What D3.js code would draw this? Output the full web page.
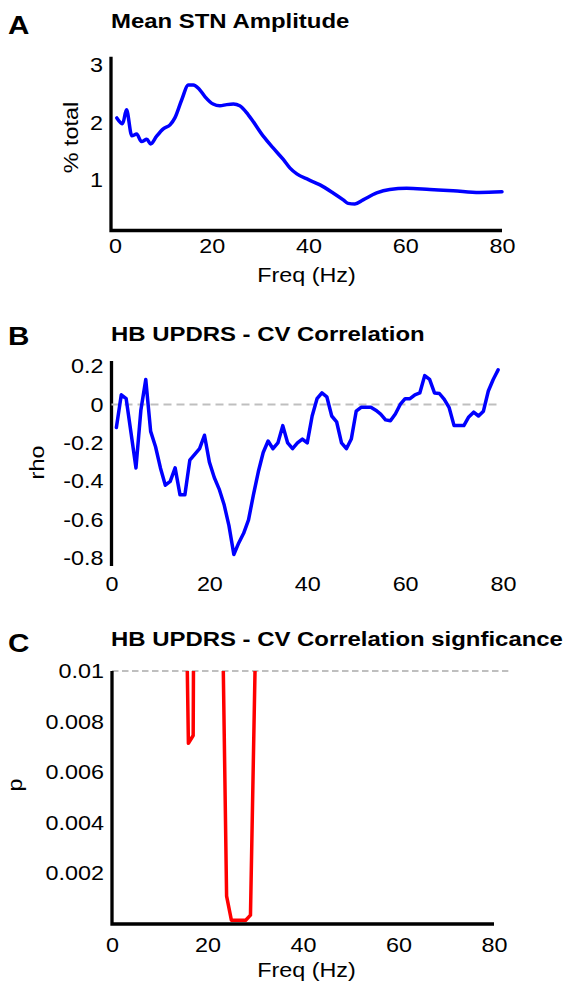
<!DOCTYPE html>
<html><head><meta charset="utf-8">
<script src="https://cdn.jsdelivr.net/npm/d3@7"></script>
<style>
html,body{margin:0;padding:0;background:#fff;}
svg text{font-family:"Liberation Sans",Arial,Helvetica,sans-serif;}
</style></head><body>
<svg id="chart" width="571" height="990"></svg>
<script>
// ---------------- data ----------------
const freqA = [0.4,1.6,2.4,3.5,4.5,5.5,6.6,7.4,8.6,10,11.4,12.4,13.8,15.2,16.2,17.4,18.6,20.3,21.7,23.1,24.5,25.8,27.6,30.7,32.7,34.8,36.2,37.6,40,42.4,45.1,47.2,48.2,49.6,51.3,54.1,56.8,60.3,65.1,69.9,75.3,80];
const ampA  = [2.08,1.98,2.22,1.77,1.80,1.67,1.71,1.63,1.76,1.89,1.96,2.08,2.39,2.65,2.65,2.58,2.45,2.32,2.29,2.31,2.32,2.29,2.13,1.76,1.56,1.36,1.21,1.11,1.01,0.92,0.78,0.66,0.60,0.59,0.66,0.78,0.84,0.86,0.84,0.82,0.79,0.80];

const freqB = [1,2,3,4,5,6,7,8,9,10,11,12,13,14,15,16,17,18,19,20,21,22,23,24,25,26,27,28,29,30,31,32,33,34,35,36,37,38,39,40,41,42,43,44,45,46,47,48,49,50,51,52,53,54,55,56,57,58,59,60,61,62,63,64,65,66,67,68,69,70,71,72,73,74,75,76,77,78,79];
const rhoB  = [-0.12,0.05,0.03,-0.15,-0.33,-0.03,0.13,-0.14,-0.22,-0.33,-0.42,-0.40,-0.33,-0.47,-0.47,-0.29,-0.26,-0.23,-0.16,-0.30,-0.38,-0.44,-0.52,-0.63,-0.78,-0.72,-0.67,-0.60,-0.47,-0.35,-0.25,-0.19,-0.23,-0.20,-0.11,-0.20,-0.23,-0.20,-0.18,-0.20,-0.06,0.03,0.06,0.04,-0.06,-0.09,-0.20,-0.23,-0.18,-0.035,-0.015,-0.014,-0.014,-0.03,-0.05,-0.08,-0.085,-0.05,0.00,0.03,0.03,0.05,0.06,0.15,0.13,0.06,0.057,0.026,-0.017,-0.11,-0.11,-0.11,-0.065,-0.04,-0.06,-0.035,0.07,0.13,0.18];

const freqC = [14,15,16,17,18,19,20,21,22,23,24,25,26,27,28,29,30,31];
const pC    = [0.05,0.0196,0.00714,0.00745,0.05,0.05,0.05,0.05,0.05,0.014,0.0011,0.00015,0.00015,0.00015,0.00015,0.00035,0.0105,0.05];

const xTicks  = [0,20,40,60,80];
const yTicksA = [1,2,3];
const yTicksB = [0.2,0,-0.2,-0.4,-0.6,-0.8];
const yTicksC = [0.002,0.004,0.006,0.008,0.01];
const zeroLineB = [0,79];
const thresholdC = 0.01;
const thresholdExtentC = [0,83];

const panelLetters = ["A","B","C"];
const titles = ["Mean STN Amplitude","HB UPDRS - CV Correlation","HB UPDRS - CV Correlation signficance"];
const xLabel = "Freq (Hz)";
const yLabels = ["% total","rho","p"];

// ---------------- drawing ----------------
const SX = 1.14;               // horizontal stretch of the original lettering
const FS = 20.5;               // tick / axis label size
const svg = d3.select("#chart");

const xA = d3.scaleLinear().domain([-0.8,80]).range([111,502]);
const yA = d3.scaleLinear().domain([0.13,3.14]).range([230.5,56.7]);
const xB = d3.scaleLinear().domain([0,80]).range([111.5,503]);
const yB = d3.scaleLinear().domain([-0.84,0.226]).range([566,361]);
const xC = d3.scaleLinear().domain([0,80]).range([112,494]);
const yC = d3.scaleLinear().domain([0,0.01]).range([924,671]);

function label(x,y,s,o={}) {
  return svg.append("text")
    .attr("transform",`translate(${x},${y})${o.rot?` rotate(${o.rot})`:""} scale(${SX},1)`)
    .attr("font-size",o.size||FS)
    .attr("font-weight",o.bold?"bold":"normal")
    .attr("text-anchor",o.anchor||"start")
    .attr("fill","#000")
    .text(s);
}

function styleAxis(g){
  g.select(".domain").remove();
  g.attr("font-size",FS).attr("font-family",'"Liberation Sans",Arial,Helvetica,sans-serif');
  g.selectAll("text").attr("transform",`scale(${SX},1)`).attr("fill","#000");
}

function axisFrame(x,y,withX){
  const x0=x.range()[0], x1=x.range()[1], yb=y.range()[0], yt=y.range()[1];
  const pts = withX ? [[x0,yt],[x0,yb],[x1,yb]] : [[x0,yt],[x0,yb]];
  svg.append("path").attr("d",d3.line()(pts)).attr("fill","none")
    .attr("stroke","#000").attr("stroke-width",3.3).attr("stroke-linejoin","miter");
}

// Panel A
axisFrame(xA,yA,true);
svg.append("g").attr("transform",`translate(${xA.range()[0]},0)`)
  .call(d3.axisLeft(yA).tickValues(yTicksA).tickSize(0).tickPadding(7).tickFormat(String)).call(styleAxis);
svg.append("g").attr("transform",`translate(0,${yA.range()[0]})`)
  .call(d3.axisBottom(xA).tickValues(xTicks).tickSize(0).tickPadding(8).tickFormat(String)).call(styleAxis);
svg.append("path").datum(freqA.map((f,i)=>[f,ampA[i]]))
  .attr("d",d3.line().x(d=>xA(d[0])).y(d=>yA(d[1])).curve(d3.curveMonotoneX))
  .attr("fill","none").attr("stroke","#0000ff").attr("stroke-width",3.5)
  .attr("stroke-linejoin","round").attr("stroke-linecap","round");

// Panel B
axisFrame(xB,yB,false);
svg.append("g").attr("transform",`translate(${xB.range()[0]},0)`)
  .call(d3.axisLeft(yB).tickValues(yTicksB).tickSize(0).tickPadding(7).tickFormat(String)).call(styleAxis);
svg.append("g").attr("transform",`translate(0,${yB.range()[0]})`)
  .call(d3.axisBottom(xB).tickValues(xTicks).tickSize(0).tickPadding(10.5).tickFormat(String)).call(styleAxis);
svg.append("line").attr("x1",xB(zeroLineB[0])).attr("x2",xB(zeroLineB[1]))
  .attr("y1",yB(0)).attr("y2",yB(0)).attr("stroke","#bfbfbf").attr("stroke-width",2)
  .attr("stroke-dasharray","8,5");
svg.append("path").datum(freqB.map((f,i)=>[f,rhoB[i]]))
  .attr("d",d3.line().x(d=>xB(d[0])).y(d=>yB(d[1])))
  .attr("fill","none").attr("stroke","#0000ff").attr("stroke-width",3.5)
  .attr("stroke-linejoin","round").attr("stroke-linecap","round");

// Panel C
svg.append("clipPath").attr("id","clipC").append("rect")
  .attr("x",xC.range()[0]).attr("y",yC.range()[1])
  .attr("width",xC.range()[1]-xC.range()[0]).attr("height",yC.range()[0]-yC.range()[1]);
svg.append("line").attr("x1",xC(thresholdExtentC[0])).attr("x2",xC(thresholdExtentC[1]))
  .attr("y1",yC(thresholdC)).attr("y2",yC(thresholdC)).attr("stroke","#bfbfbf").attr("stroke-width",2)
  .attr("stroke-dasharray","6.5,3.5");
axisFrame(xC,yC,true);
svg.append("g").attr("transform",`translate(${xC.range()[0]},0)`)
  .call(d3.axisLeft(yC).tickValues(yTicksC).tickSize(0).tickPadding(7).tickFormat(String)).call(styleAxis);
svg.append("g").attr("transform",`translate(0,${yC.range()[0]})`)
  .call(d3.axisBottom(xC).tickValues(xTicks).tickSize(0).tickPadding(13).tickFormat(String)).call(styleAxis);
svg.append("path").datum(freqC.map((f,i)=>[f,pC[i]]))
  .attr("clip-path","url(#clipC)")
  .attr("d",d3.line().x(d=>xC(d[0])).y(d=>yC(d[1])))
  .attr("fill","none").attr("stroke","#ff0000").attr("stroke-width",3.5)
  .attr("stroke-linejoin","round");

// Titles, panel letters, axis labels
const letterY = [33.5,345,652];
const titleY  = [28.3,340.7,646];
panelLetters.forEach((l,i)=>label(8,letterY[i],l,{bold:true,size:26}));
titles.forEach((t,i)=>label(111,titleY[i],t,{bold:true,size:21}));
label(306.5,282,xLabel,{anchor:"middle"});
label(306.5,977,xLabel,{anchor:"middle"});
label(78,137.5,yLabels[0],{anchor:"middle",rot:-90});
label(44,462.5,yLabels[1],{anchor:"middle",rot:-90});
label(21.5,785,yLabels[2],{anchor:"middle",rot:-90});
</script>
</body></html>
